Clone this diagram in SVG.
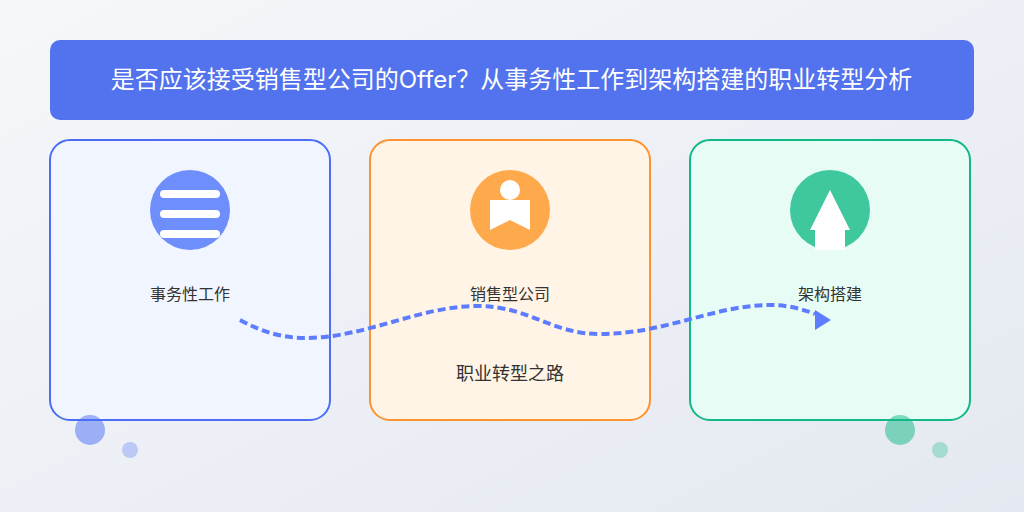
<svg xmlns="http://www.w3.org/2000/svg" width="1024" height="512" viewBox="0 0 1024 512">
<style>
text{font-family:"Inter","Noto Sans CJK SC","Noto Sans",sans-serif;text-anchor:middle;fill:#333}
.card{stroke-width:2}
.lab{font-size:16px}
.w{fill:#fff}
</style>
<defs>
<linearGradient id="bg" x1="0" y1="0" x2="1" y2="1"><stop offset="0" stop-color="#f5f7fa"/><stop offset="1" stop-color="#e4e8f0"/></linearGradient>
<marker id="arr" markerUnits="userSpaceOnUse" markerWidth="16" markerHeight="20" refX="0" refY="4" orient="0" overflow="visible"><path d="M0 0L16 10L0 20Z" fill="#5e7cff"/></marker>
</defs>
<rect width="1024" height="512" fill="url(#bg)"/>
<g id="title"><rect x="50" y="40" width="924" height="80" rx="10" fill="#5372ed"/><text x="511.5" y="88" font-size="24" style="fill:#fff">是否应该接受销售型公司的Offer？从事务性工作到架构搭建的职业转型分析</text></g>
<g id="node-admin"><rect class="card" x="50" y="140" width="280" height="280" rx="20" fill="#f0f5ff" stroke="#4c6ef5"/><circle cx="190" cy="210" r="40" fill="#6e8efb"/><rect class="w" x="160" y="190" width="60" height="8" rx="4"/><rect class="w" x="160" y="210" width="60" height="8" rx="4"/><rect class="w" x="160" y="230" width="60" height="8" rx="4"/><text class="lab" x="190" y="300">事务性工作</text></g>
<g id="node-sales"><rect class="card" x="370" y="140" width="280" height="280" rx="20" fill="#fff4e6" stroke="#fd9330"/><circle cx="510" cy="210" r="40" fill="#ffa94d"/><circle class="w" cx="510" cy="190" r="10"/><path class="w" d="M490 200H530V230L510 220L490 230Z"/><text class="lab" x="510" y="300">销售型公司</text></g>
<g id="node-arch"><rect class="card" x="690" y="140" width="280" height="280" rx="20" fill="#e6fcf5" stroke="#12b886"/><circle cx="830" cy="210" r="40" fill="#3fc79e"/><path class="w" d="M830 190L850 230H845V250H815V230H810Z"/><text class="lab" x="830" y="300">架构搭建</text></g>
<g id="connectors"><path d="M240 320C262 332 283 338 305 338C365 338 420 306 477 306C530 306 550 334 600 334C665 334 715 305 770 305C785 305 800 308 815 314" fill="none" stroke="#5e7cff" stroke-width="4" stroke-dasharray="8 4" marker-end="url(#arr)"/></g>
<text x="510" y="380" font-size="18">职业转型之路</text>
<g id="decor"><circle cx="90" cy="430" r="15" fill="#4c6ef5" opacity=".5"/><circle cx="130" cy="450" r="8" fill="#4c6ef5" opacity=".3"/><circle cx="900" cy="430" r="15" fill="#12b886" opacity=".5"/><circle cx="940" cy="450" r="8" fill="#12b886" opacity=".3"/></g>
</svg>
